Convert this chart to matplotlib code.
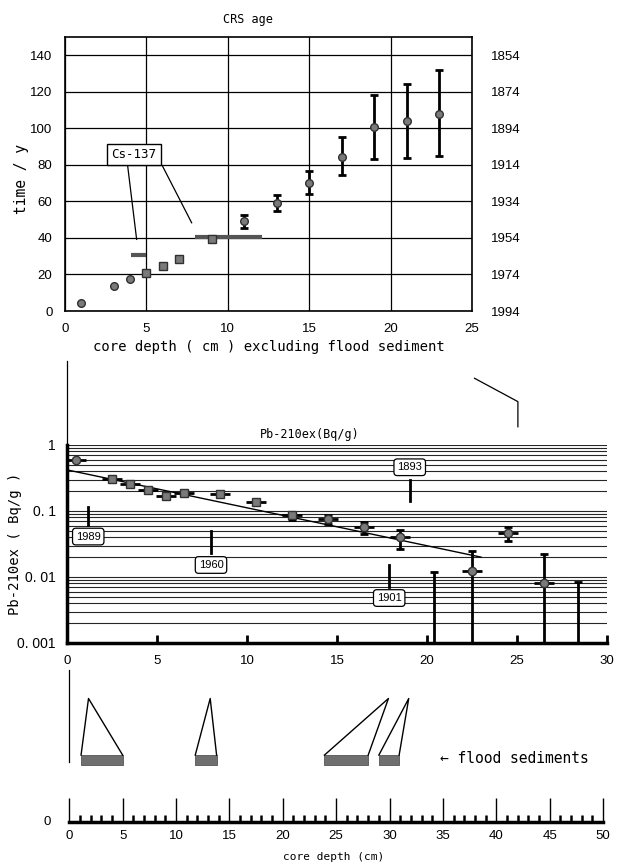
import matplotlib.pyplot as plt
import numpy as np

plt.rcParams['font.family'] = ['Liberation Sans', 'DejaVu Sans']
MONO = 'DejaVu Sans Mono'

# --- CRS age model (depth excluding flood layers) ---
crs_depth = [1, 3, 4, 5, 6, 7, 9, 11, 13, 15, 17, 19, 21, 23]
crs_age = [4.5, 13.5, 17.5, 21, 24.5, 28.5, 39.5, 49, 59, 70, 84.5, 100.5, 104, 108]
crs_age_lo = [4.5, 13.5, 17.5, 21, 24.5, 28.5, 39.5, 45.5, 55, 64, 74.5, 83, 84, 85]
crs_age_hi = [4.5, 13.5, 17.5, 21, 24.5, 28.5, 39.5, 52.5, 63.5, 76.5, 95, 118, 124, 132]
crs_marker = ['o', 'o', 'o', 's', 's', 's', 's', 'o', 'o', 'o', 'o', 'o', 'o', 'o']
time_ticks = [0, 20, 40, 60, 80, 100, 120, 140]
year_labels = ['1994', '1974', '1954', '1934', '1914', '1894', '1874', '1854']

# Cs-137 horizons
cs_from = [4.05, 8.0]
cs_to = [4.97, 12.1]
cs_age = [30.6, 40.6]

# --- excess Pb-210 profile ---
pb_depth = [0.5, 2.5, 3.5, 4.5, 5.5, 6.5, 8.5, 10.5, 12.5, 14.5, 16.5, 18.5, 22.5, 24.5, 26.5]
pb_act = [0.59, 0.31, 0.26, 0.21, 0.17, 0.185, 0.18, 0.137, 0.086, 0.075, 0.057, 0.041, 0.0125, 0.046, 0.008]
pb_lo = [0.59, 0.31, 0.26, 0.21, 0.17, 0.185, 0.18, 0.137, 0.073, 0.064, 0.045, 0.027, 1e-4, 0.035, 1e-4]
pb_hi = [0.59, 0.31, 0.26, 0.21, 0.17, 0.185, 0.18, 0.137, 0.098, 0.087, 0.067, 0.052, 0.025, 0.058, 0.022]
pb_marker = ['o'] + ['s'] * 8 + ['o'] * 6
lim_depth = [20.4, 28.4]
lim_act = [0.0117, 0.0085]
fit_depth = [0, 23]
fit_act = [0.42, 0.020]

mark_year = ['1989', '1960', '1893', '1901']
mark_depth = [1.18, 8.0, 19.04, 17.9]
mark_box = [0.041, 0.0152, 0.46, 0.0048]
mark_top = [0.116, 0.049, 0.295, 0.0152]
mark_bot = [0.061, 0.023, 0.143, 0.0071]

# --- flood sediment layers in the raw core ---
flood_start = [1.1, 11.8, 23.9, 29.0]
flood_end = [5.0, 13.8, 28.0, 30.9]
flood_apex = [1.8, 13.2, 29.9, 31.8]

W, H = 617, 868
fig = plt.figure(figsize=(W / 100, H / 100), dpi=100)


def px_axes(l, t, r, b):
    return fig.add_axes([l / W, 1 - b / H, (r - l) / W, (b - t) / H])


face = '#7a7a7a'
edge = '#303030'

# ---------------- CRS age ----------------
ax1 = px_axes(65, 37, 472, 311)
ax1.set_xlim(0, 25)
ax1.set_ylim(0, 150)
ax1.set_xticks([0, 5, 10, 15, 20, 25])
ax1.set_yticks(time_ticks)
ax1.grid(True, color='k', lw=0.9)
ax1.tick_params(length=0, labelsize=9.5, pad=9)
for s in ax1.spines.values():
    s.set_linewidth(1.2)

for x, t, lo, hi, m in zip(crs_depth, crs_age, crs_age_lo, crs_age_hi, crs_marker):
    if hi > lo:
        ax1.errorbar(x, t, yerr=[[t - lo], [hi - t]], fmt='none', ecolor='k',
                     elinewidth=2, capsize=3, capthick=2, zorder=3)
    ax1.plot(x, t, marker=m, ms=5.5, mfc=face, mec=edge, mew=1, ls='none', zorder=4)

for a, b, t in zip(cs_from, cs_to, cs_age):
    ax1.plot([a, b], [t, t], color='#555555', lw=3, solid_capstyle='butt', zorder=2)

ax1.text(4.24, 85.7, 'Cs-137', family=MONO, fontsize=9, ha='center', va='center',
         bbox=dict(boxstyle='square,pad=0.35', fc='white', ec='k', lw=1), zorder=5)
ax1.plot([3.85, 4.4], [79.4, 39.2], color='k', lw=0.9, zorder=5)
ax1.plot([5.98, 7.78], [79.5, 48.3], color='k', lw=0.9, zorder=5)

ax1.set_title('CRS age', family=MONO, fontsize=8.5, x=0.45, pad=10)
ax1.set_ylabel('time / y', family=MONO, fontsize=10.5)
ax1.yaxis.set_label_coords(-0.088, 0.48)
ax1.set_xlabel('core depth ( cm ) excluding flood sediment', family=MONO,
               fontsize=10, labelpad=3)

ax1r = ax1.twinx()
ax1r.set_ylim(0, 150)
ax1r.set_yticks(time_ticks)
ax1r.set_yticklabels(year_labels)
ax1r.tick_params(length=0, labelsize=9.5, pad=14)
for s in ax1r.spines.values():
    s.set_visible(False)

# ---------------- Pb-210ex ----------------
ax2 = px_axes(67, 445, 607, 643)
ax2.set_yscale('log')
ax2.set_xlim(0, 30)
ax2.set_ylim(0.001, 1)
ax2.set_xticks([0, 5, 10, 15, 20, 25, 30])
ax2.set_yticks([0.001, 0.01, 0.1, 1])
ax2.set_yticklabels(['0. 001', '0. 01', '0. 1', '1'])
ax2.yaxis.grid(True, which='both', color='0.15', lw=0.8)
ax2.tick_params(axis='y', which='both', length=0, labelsize=10, pad=8)
ax2.tick_params(axis='x', direction='in', length=6, width=2, labelsize=9.5, pad=9)
ax2.spines['top'].set_visible(False)
ax2.spines['right'].set_visible(False)
ax2.spines['left'].set_linewidth(2.5)
ax2.spines['bottom'].set_linewidth(2.5)

ax2.plot(fit_depth, fit_act, color='k', lw=1, zorder=2)

for x, v, lo, hi, m in zip(pb_depth, pb_act, pb_lo, pb_hi, pb_marker):
    ax2.errorbar(x, v, xerr=0.55, fmt='none', ecolor='k', elinewidth=2,
                 capsize=0, zorder=3)
    if hi > lo:
        ax2.errorbar(x, v, yerr=[[v - lo], [hi - v]], fmt='none', ecolor='k',
                     elinewidth=2, capsize=3, capthick=2, zorder=3)
    ax2.plot(x, v, marker=m, ms=6, mfc=face, mec=edge, mew=1, ls='none', zorder=4)

lim_lo = np.array(lim_act) - 1e-4
ax2.errorbar(lim_depth, lim_act, yerr=[lim_lo, np.zeros(len(lim_act))], fmt='none',
             ecolor='k', elinewidth=2, capsize=3, capthick=2, zorder=3)

for yr, x, yb, yt, ybot in zip(mark_year, mark_depth, mark_box, mark_top, mark_bot):
    ax2.plot([x, x], [ybot, yt], color='k', lw=2, zorder=5)
    ax2.text(x, yb, yr, fontsize=8, ha='center', va='center', zorder=6,
             bbox=dict(boxstyle='round,pad=0.3', fc='white', ec='k', lw=0.9))

ax2.set_title('Pb-210ex(Bq/g)', family=MONO, fontsize=8.5, x=0.45, pad=5)
ax2.set_ylabel('Pb-210ex ( Bq/g )', family=MONO, fontsize=10)
ax2.yaxis.set_label_coords(-0.084, 0.5)
ax2.set_xlabel('core depth ( cm ) excluding flood sediment', family=MONO,
               fontsize=10, labelpad=2)

# connector lines above the Pb-210 panel
xt = ax2.get_xaxis_transform()
ax2.plot([0, 0], [1.0, 1.426], color='k', lw=0.9, transform=xt, clip_on=False)
ax2.plot([22.64, 25.05, 25.05], [1.337, 1.219, 1.092], color='k', lw=0.9,
         transform=xt, clip_on=False)

# ---------------- flood sediments / raw core depth ----------------
ax3 = px_axes(69.3, 670, 603, 822)
ax3.set_xlim(0, 50)
ax3.set_ylim(0, 1)
for k in ['top', 'right', 'left']:
    ax3.spines[k].set_visible(False)
ax3.spines['bottom'].set_linewidth(2.5)
ax3.set_xticks(np.arange(0, 51, 5))
ax3.set_xticks(np.arange(0, 51, 1), minor=True)
ax3.tick_params(axis='x', which='major', direction='in', length=17, width=1,
                labelsize=9.5, pad=6)
ax3.tick_params(axis='x', which='minor', direction='in', length=5, width=1.8)
ax3.set_yticks([])
ax3.text(-2.1, 0.0, '0', fontsize=9.5, ha='center', va='center', clip_on=False)

ax3.plot([0, 0], [0.395, 1.0], color='k', lw=0.9, clip_on=False)
ax3.bar(flood_start, 0.065, width=np.array(flood_end) - np.array(flood_start),
        bottom=0.375, align='edge', color='#6f6f6f', edgecolor='#555555', lw=0.6)
for a, b, p in zip(flood_start, flood_end, flood_apex):
    ax3.plot([a, p, b], [0.44, 0.8125, 0.44], color='k', lw=1)

ax3.text(34.7, 0.415, '\u2190 flood sediments', family=MONO, fontsize=10.5,
         ha='left', va='center')
ax3.text(24.8, -0.23, 'core depth (cm)', family=MONO, fontsize=8,
         ha='center', va='center', clip_on=False)

fig.savefig('out.png', dpi=100)
